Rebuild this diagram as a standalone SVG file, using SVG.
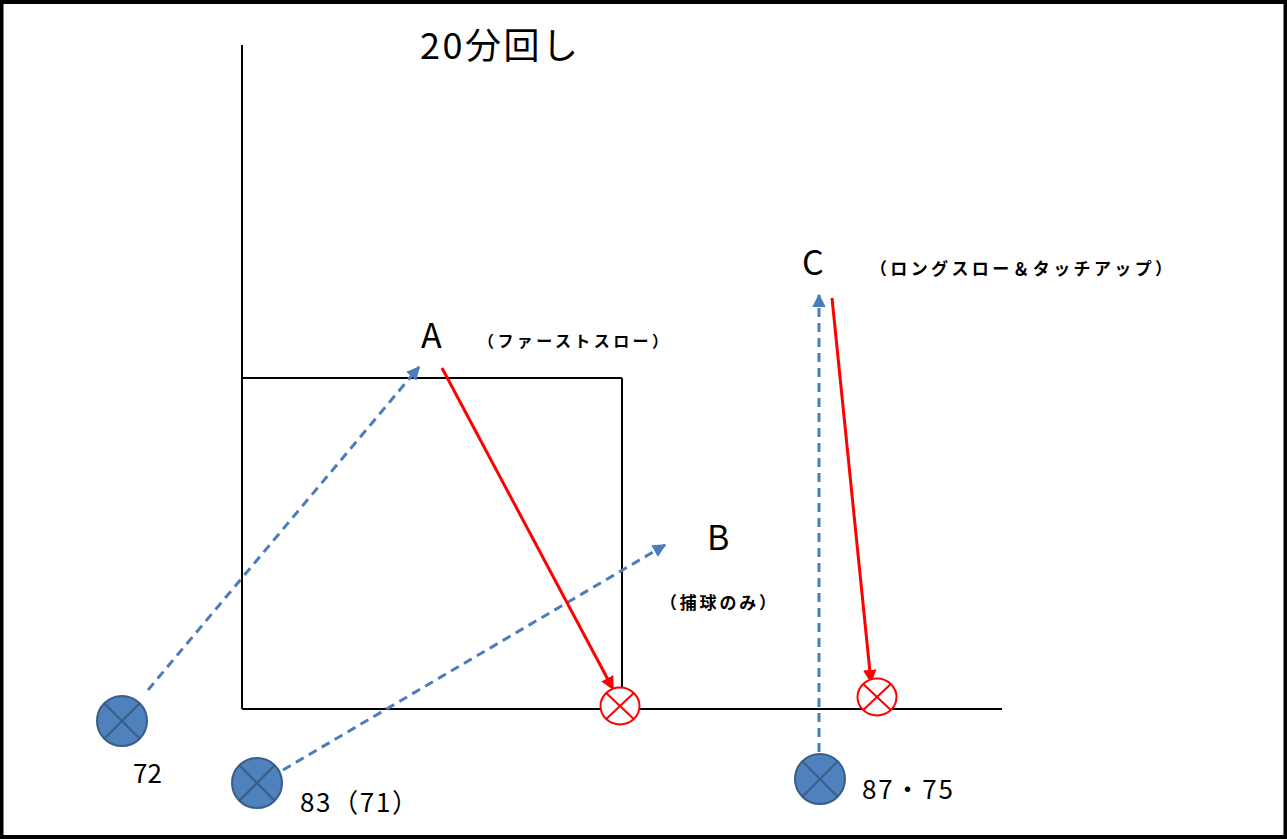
<svg xmlns="http://www.w3.org/2000/svg" width="1287" height="839" viewBox="0 0 1287 839">
<defs>
<style>
.t{font-family:"Noto Sans CJK JP","Noto Sans",sans-serif;fill:#000}
.s{font-family:"Noto Sans CJK JP","Noto Sans",sans-serif;fill:#000;font-weight:bold}
.ax{stroke:#000;stroke-width:2;fill:none}
.bl{stroke:#4A7EBB;stroke-width:3;stroke-dasharray:9,6;fill:none}
.rd{stroke:#FF0000;stroke-width:3;fill:none}
.pc{fill:#4F81BD;stroke:#385D8A;stroke-width:2}
.px{stroke:#385D8A;stroke-width:2}
.rc{fill:#fff;stroke:#FF0000;stroke-width:2}
.rx{stroke:#FF0000;stroke-width:2}
</style>
<marker id="ab" viewBox="0 0 10 10" refX="9" refY="5" markerWidth="4.5" markerHeight="4.5" orient="auto" markerUnits="strokeWidth"><path d="M0,0 L10,5 L0,10 z" fill="#4A7EBB"/></marker>
<marker id="ar" viewBox="0 0 10 10" refX="9" refY="5" markerWidth="4.5" markerHeight="4.5" orient="auto" markerUnits="strokeWidth"><path d="M0,0 L10,5 L0,10 z" fill="#FF0000"/></marker>
</defs>
<rect x="1.5" y="2" width="1284" height="835" fill="#fff" stroke="#000" stroke-width="4"/>
<g id="field">
<line class="ax" x1="242" y1="45" x2="242" y2="709"/>
<line class="ax" x1="242" y1="709" x2="1002" y2="709"/>
<line class="ax" x1="242" y1="378" x2="622" y2="378"/>
<line class="ax" x1="622" y1="378" x2="622" y2="709"/>
</g>
<g id="title"><text class="t" x="420" y="59" font-size="36" textLength="158" lengthAdjust="spacing">20分回し</text></g>
<g id="connectors">
<line class="bl" x1="148" y1="690" x2="419" y2="367" marker-end="url(#ab)"/>
<line class="bl" x1="283" y1="770" x2="665" y2="545" marker-end="url(#ab)"/>
<line class="bl" x1="819" y1="752" x2="819" y2="295" marker-end="url(#ab)"/>
<line class="rd" x1="442" y1="368" x2="613" y2="689" marker-end="url(#ar)"/>
<line class="rd" x1="832" y1="298" x2="871" y2="682" marker-end="url(#ar)"/>
</g>
<g id="nodeA">
<text class="t" x="421" y="348" font-size="34">A</text>
<text class="s" x="478" y="347" font-size="16" textLength="190" lengthAdjust="spacing">（ファーストスロー）</text>
</g>
<g id="nodeB">
<text class="t" x="707" y="550" font-size="34">B</text>
<text class="s" x="660" y="609" font-size="17" textLength="116" lengthAdjust="spacing">（捕球のみ）</text>
</g>
<g id="nodeC">
<text class="t" x="802" y="275" font-size="34">C</text>
<text class="s" x="870" y="275" font-size="17" textLength="302" lengthAdjust="spacing">（ロングスロー＆タッチアップ）</text>
</g>
<g id="p72">
<circle class="pc" cx="122" cy="721" r="25"/>
<line class="px" x1="104.3" y1="703.3" x2="139.7" y2="738.7"/>
<line class="px" x1="139.7" y1="703.3" x2="104.3" y2="738.7"/>
<text class="t" x="133" y="783" font-size="26">72</text>
</g>
<g id="p83">
<circle class="pc" cx="257" cy="783" r="25"/>
<line class="px" x1="239.3" y1="765.3" x2="274.7" y2="800.7"/>
<line class="px" x1="274.7" y1="765.3" x2="239.3" y2="800.7"/>
<text class="t" x="300" y="812" font-size="26" textLength="118" lengthAdjust="spacing">83（71）</text>
</g>
<g id="p87">
<circle class="pc" cx="820" cy="779" r="25"/>
<line class="px" x1="802.3" y1="761.3" x2="837.7" y2="796.7"/>
<line class="px" x1="837.7" y1="761.3" x2="802.3" y2="796.7"/>
<text class="t" x="862" y="799" font-size="26" textLength="91" lengthAdjust="spacing">87・75</text>
</g>
<g id="xA">
<ellipse class="rc" cx="620" cy="706" rx="19.5" ry="18.5"/>
<line class="rx" x1="606.2" y1="692.9" x2="633.8" y2="719.1"/>
<line class="rx" x1="633.8" y1="692.9" x2="606.2" y2="719.1"/>
</g>
<g id="xC">
<ellipse class="rc" cx="877" cy="697" rx="19.5" ry="18.5"/>
<line class="rx" x1="863.2" y1="683.9" x2="890.8" y2="710.1"/>
<line class="rx" x1="890.8" y1="683.9" x2="863.2" y2="710.1"/>
</g>
</svg>
